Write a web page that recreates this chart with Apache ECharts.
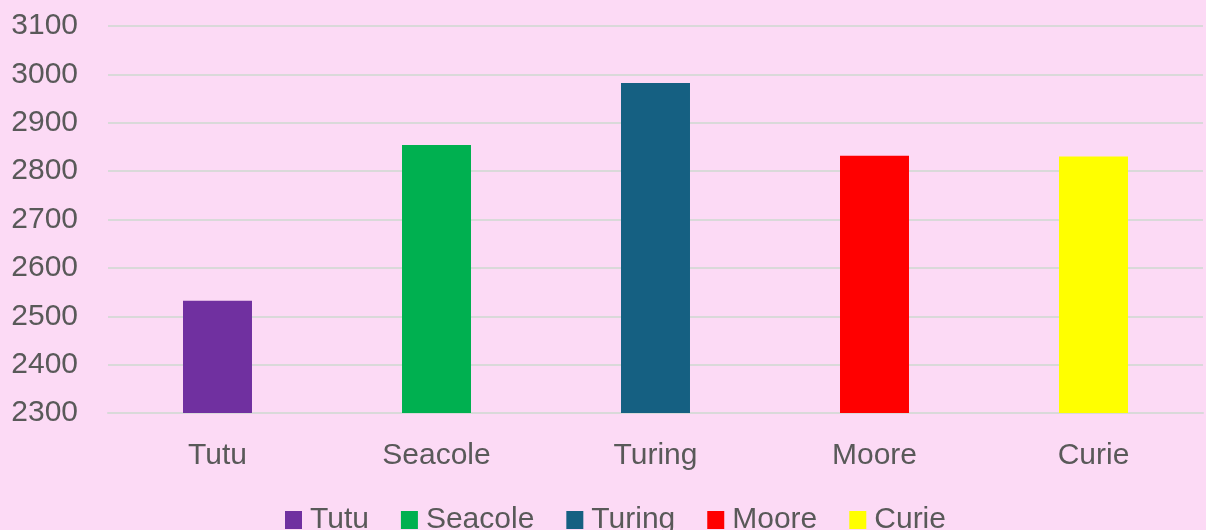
<!DOCTYPE html>
<html>
<head>
<meta charset="utf-8">
<script src="https://cdn.jsdelivr.net/npm/echarts@6/dist/echarts.min.js"></script>
<style>
html,body{margin:0;padding:0;background:#FCDAF5;}
#main{width:1206px;height:530px;}
</style>
</head>
<body>
<div id="main"></div>
<script>
/*数据*/
var categories = ['Tutu', 'Seacole', 'Turing', 'Moore', 'Curie'];
var values = [2532, 2854, 2982, 2832, 2830];
var barColors = ['#7030A0', '#00B050', '#156082', '#FF0000', '#FFFF00'];

var chart = echarts.init(document.getElementById('main'));
/*每个类别一个系列，便于图例显示*/
var _series = [];
for (var i = 0; i < categories.length; i++) {
	var d = [];
	for (var j = 0; j < categories.length; j++) {
		d.push(j == i ? values[i] : '-');
	}
	_series.push({
		name: categories[i],
		type: 'bar',
		stack: 'all',
		barWidth: '31.5%',
		itemStyle: { color: barColors[i] },
		data: d
	});
}
var option = {
	backgroundColor: '#FCDAF5',
	animation: false,
	grid: { left: 108, right: 3, top: 26, bottom: 117 },
	legend: {
		data: categories,
		left: 285,
		top: 505,
		padding: 0,
		itemWidth: 17,
		itemHeight: 18,
		itemGap: 32,
		icon: 'rect',
		textStyle: { color: '#595959', fontSize: 30, fontFamily: 'Liberation Sans', padding: [0, 0, 0, 3] }
	},
	xAxis: {
		type: 'category',
		data: categories,
		axisLine: { lineStyle: { color: '#D9D9D9', width: 2 } },
		axisTick: { show: false },
		axisLabel: { color: '#595959', fontSize: 30, fontFamily: 'Liberation Sans', margin: 28 }
	},
	yAxis: {
		type: 'value',
		min: 2300,
		max: 3100,
		interval: 100,
		axisLine: { show: false },
		axisTick: { show: false },
		splitLine: { lineStyle: { color: '#D9D9D9', width: 2 } },
		axisLabel: {
			color: '#595959', fontSize: 30, fontFamily: 'Liberation Sans', margin: 30,
			formatter: function (v) { return String(v); }
		}
	},
	series: _series
};
chart.setOption(option);
</script>
</body>
</html>
